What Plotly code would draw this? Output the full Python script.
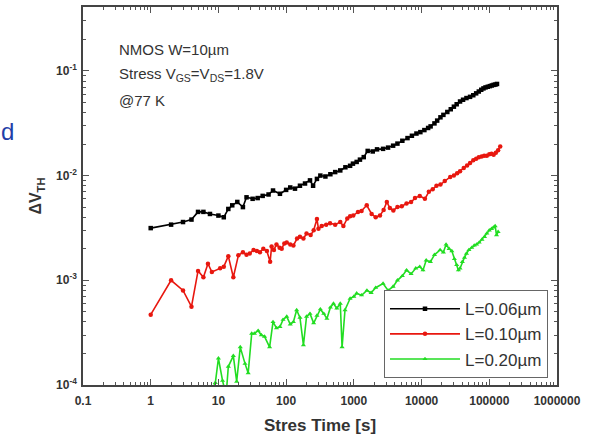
import plotly.graph_objects as go

# Threshold-voltage shift vs. stress time, NMOS W=10um, three gate lengths
t_006 = [1, 2, 3, 4, 5, 6, 7.5, 10, 12, 14, 16, 19, 23, 26, 32, 38, 45, 55, 64, 81,
         100, 115, 135, 160, 190, 225, 250, 285, 320, 380, 450, 530, 630, 750, 880, 970,
         1100, 1230, 1400, 1600, 1900, 2200, 2700, 3200, 3800, 4400, 5200, 6200, 7200,
         8400, 9600, 11000, 12500, 13600, 15500, 17000, 19000, 21000, 24000, 27000,
         30000, 33000, 37000, 41000, 46000, 52000, 58000, 64000, 70000, 76000, 82000,
         88000, 95000, 102000, 109000, 116000, 123000, 130000]
dv_006 = [3.15e-3, 3.4e-3, 3.6e-3, 3.8e-3, 4.5e-3, 4.5e-3, 4.3e-3, 4.15e-3, 4.0e-3, 4.8e-3,
          5.2e-3, 5.6e-3, 5.0e-3, 6.2e-3, 6.0e-3, 6.1e-3, 6.4e-3, 6.6e-3, 7.2e-3, 6.7e-3,
          7.3e-3, 7.7e-3, 7.5e-3, 8.0e-3, 8.4e-3, 9.0e-3, 8.0e-3, 9.3e-3, 1.0e-2, 9.8e-3,
          1.03e-2, 1.08e-2, 1.12e-2, 1.2e-2, 1.24e-2, 1.3e-2, 1.35e-2, 1.42e-2, 1.5e-2,
          1.72e-2, 1.7e-2, 1.78e-2, 1.8e-2, 1.85e-2, 1.93e-2, 2.02e-2, 2.15e-2, 2.28e-2,
          2.4e-2, 2.52e-2, 2.6e-2, 2.72e-2, 2.85e-2, 2.95e-2, 3.15e-2, 3.35e-2, 3.6e-2,
          3.8e-2, 4.05e-2, 4.3e-2, 4.55e-2, 4.8e-2, 5.1e-2, 5.3e-2, 5.5e-2, 5.65e-2,
          5.85e-2, 6.1e-2, 6.35e-2, 6.6e-2, 6.8e-2, 6.95e-2, 7.05e-2, 7.15e-2, 7.25e-2,
          7.35e-2, 7.4e-2, 7.5e-2]

t_010 = [1, 2, 3, 4, 5, 6, 7, 8, 10.6, 12, 14, 16.6, 19.7, 23, 26, 29, 33, 37, 41, 46,
         52, 58, 61, 66, 72, 80, 86, 94, 102, 115, 128, 145, 160, 180, 200, 230, 255,
         285, 300, 335, 390, 445, 530, 630, 700, 800, 880, 980, 1150, 1300, 1550, 1830,
         2100, 2430, 2750, 3070, 3400, 3830, 4400, 5100, 6000, 7000, 8000, 9400, 11200,
         12800, 14600, 16600, 19000, 22000, 26500, 30000, 33500, 37000, 42000, 47000,
         52000, 58000, 64000, 70000, 77000, 84000, 92000, 100000, 108000, 116000,
         125000, 135000, 145000]
dv_010 = [4.7e-4, 1.0e-3, 8.0e-4, 5.6e-4, 1.23e-3, 1.07e-3, 1.44e-3, 1.2e-3, 1.3e-3,
          1.35e-3, 1.7e-3, 1.07e-3, 1.73e-3, 1.85e-3, 1.75e-3, 1.8e-3, 1.95e-3, 1.9e-3,
          1.85e-3, 2.0e-3, 1.9e-3, 1.5e-3, 2.1e-3, 1.95e-3, 2.2e-3, 2.05e-3, 2.0e-3,
          2.25e-3, 2.3e-3, 2.2e-3, 2.15e-3, 2.5e-3, 2.6e-3, 2.5e-3, 2.8e-3, 2.7e-3,
          3.0e-3, 3.85e-3, 3.1e-3, 3.3e-3, 3.4e-3, 3.5e-3, 3.4e-3, 3.6e-3, 3.3e-3,
          3.9e-3, 4.1e-3, 4.15e-3, 4.5e-3, 4.6e-3, 5.2e-3, 4.3e-3, 4.0e-3, 4.15e-3,
          4.7e-3, 5.6e-3, 4.9e-3, 4.65e-3, 5.0e-3, 5.1e-3, 5.4e-3, 5.6e-3, 6.1e-3,
          6.4e-3, 6.0e-3, 7.0e-3, 7.4e-3, 8.0e-3, 8.2e-3, 8.9e-3, 9.7e-3, 1.0e-2,
          1.05e-2, 1.1e-2, 1.18e-2, 1.25e-2, 1.32e-2, 1.4e-2, 1.45e-2, 1.5e-2, 1.52e-2,
          1.55e-2, 1.55e-2, 1.6e-2, 1.62e-2, 1.58e-2, 1.65e-2, 1.75e-2, 1.9e-2]

t_020 = [7, 8, 9, 10, 11.5, 13, 14, 16.6, 18.6, 21, 24.7, 27.5, 31, 34, 38.6, 43, 48,
         57, 64, 72, 81, 90, 102, 115, 128, 143, 160, 180, 200, 225, 255, 285, 320, 360,
         400, 450, 500, 560, 630, 670, 740, 880, 1000, 1100, 1300, 1560, 1800, 2100,
         2700, 3200, 3800, 4400, 5200, 6000, 7000, 8200, 9400, 10500, 11700, 13500,
         15500, 18800, 21000, 23000, 25500, 28000, 30500, 33000, 35000, 37000, 40000,
         43000, 46000, 50000, 55000, 60000, 65000, 71000, 78000, 85000, 92000, 100000,
         108000, 115000, 122000, 128000, 135000]
dv_020 = [7e-5, 9e-5, 1.05e-4, 1.8e-4, 1.1e-4, 8e-5, 1.5e-4, 1.9e-4, 1.08e-4, 2.3e-4,
          1.6e-4, 1.3e-4, 3.1e-4, 3.1e-4, 3.3e-4, 3.0e-4, 2.9e-4, 2.3e-4, 4.0e-4, 3.5e-4,
          3.6e-4, 4.2e-4, 4.5e-4, 3.8e-4, 4.0e-4, 5.2e-4, 4.4e-4, 2.4e-4, 4.5e-4, 4.8e-4,
          3.9e-4, 4.6e-4, 5.3e-4, 4.8e-4, 4.3e-4, 5.5e-4, 6.0e-4, 5.4e-4, 6.0e-4, 2.3e-4,
          5.2e-4, 6.7e-4, 7.0e-4, 7.5e-4, 7.2e-4, 8.0e-4, 7.6e-4, 8.5e-4, 9.3e-4, 8.0e-4,
          8.7e-4, 1.0e-3, 1.1e-3, 1.25e-3, 1.15e-3, 1.3e-3, 1.35e-3, 1.25e-3, 1.55e-3,
          1.5e-3, 1.75e-3, 1.95e-3, 1.85e-3, 2.2e-3, 2.0e-3, 1.9e-3, 1.6e-3, 1.4e-3,
          1.25e-3, 1.3e-3, 1.5e-3, 1.65e-3, 1.8e-3, 1.95e-3, 2.05e-3, 2.15e-3, 2.2e-3,
          2.3e-3, 2.45e-3, 2.6e-3, 2.8e-3, 3.0e-3, 3.1e-3, 3.2e-3, 3.3e-3, 2.7e-3, 2.9e-3]

x_ticks = [0.1, 1, 10, 100, 1000, 10000, 100000, 1000000]
x_ticktext = ["0.1", "1", "10", "100", "1000", "10000", "100000", "1000000"]
y_ticks = [1e-4, 1e-3, 1e-2, 1e-1]
y_ticktext = ["10<sup>-4</sup>", "10<sup>-3</sup>", "10<sup>-2</sup>", "10<sup>-1</sup>"]

series = [
    ("L=0.06\u00b5m", t_006, dv_006, "#000000", "square"),
    ("L=0.10\u00b5m", t_010, dv_010, "#e8170f", "circle"),
    ("L=0.20\u00b5m", t_020, dv_020, "#22dd22", "triangle-up"),
]

FONT = "Liberation Sans, Arial, sans-serif"

fig = go.Figure()
for name, t, dv, color, sym in series:
    fig.add_trace(go.Scatter(
        x=t, y=dv, name=name, mode="lines+markers",
        line=dict(color=color, width=1.6),
        marker=dict(symbol=sym, size=4.5, color=color),
    ))

axis_common = dict(
    type="log", showline=True, linecolor="#444", linewidth=1.5, mirror="allticks",
    ticks="inside", ticklen=6, tickwidth=1, tickcolor="#555",
    showgrid=False, zeroline=False,
    minor=dict(ticks="inside", ticklen=3, tickwidth=1, tickcolor="#555",
               dtick="D1", showgrid=False),
    tickfont=dict(family=FONT, size=12, color="#333", weight="bold"),
)

fig.update_layout(
    width=593, height=439,
    margin=dict(l=83, r=36, t=5, b=54),
    paper_bgcolor="white", plot_bgcolor="white",
    showlegend=True,
    legend=dict(
        x=0.981, y=0.018, xanchor="right", yanchor="bottom",
        bgcolor="white", bordercolor="#666", borderwidth=1,
        font=dict(family=FONT, size=17, color="#333"),
        tracegroupgap=0, itemwidth=70,
    ),
    xaxis=dict(
        axis_common, range=[-1, 6], tickvals=x_ticks, ticktext=x_ticktext,
        ticklabelstandoff=4,
        title=dict(text="Stres Time [s]", standoff=12,
                   font=dict(family=FONT, size=17, color="#333", weight="bold")),
    ),
    yaxis=dict(
        axis_common, range=[-4, -0.39], tickvals=y_ticks, ticktext=y_ticktext,
        ticklabelstandoff=2,
        title=dict(text="\u0394V<sub>TH</sub>", standoff=10,
                   font=dict(family=FONT, size=16, color="#333", weight="bold")),
    ),
)

notes = [
    ("NMOS W=10\u00b5m", 0.887),
    ("Stress V<sub>GS</sub>=V<sub>DS</sub>=1.8V", 0.821),
    ("@77 K", 0.753),
]
for txt, yy in notes:
    fig.add_annotation(
        x=0.072, y=yy, xref="paper", yref="paper", xanchor="left", yanchor="middle",
        text=txt, showarrow=False, font=dict(family=FONT, size=15, color="#333"),
    )

fig.add_annotation(
    x=-0.16, y=0.67, xref="paper", yref="paper", xanchor="center", yanchor="middle",
    text="d", showarrow=False, font=dict(family=FONT, size=24, color="#1f3fa8"),
)

fig.write_html("out.html")
